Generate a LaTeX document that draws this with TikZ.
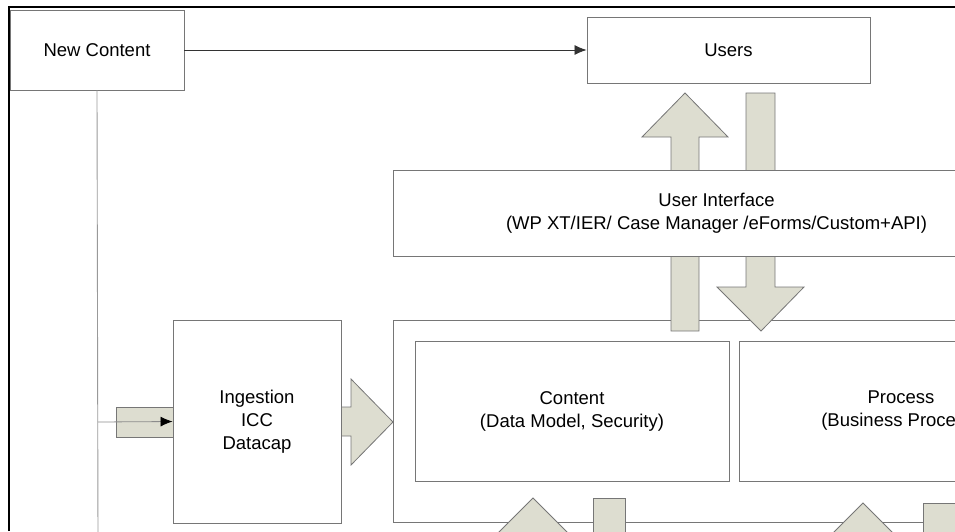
\documentclass[tikz,border=0pt]{standalone}
\usepackage{fontspec}
\setmainfont{Liberation Sans}
\usetikzlibrary{arrows.meta,positioning}
\definecolor{boxgray}{RGB}{118,118,118}
\definecolor{fatfill}{RGB}{221,221,208}

\begin{document}
\begin{tikzpicture}[x=1pt,y=-1pt,>=Latex,font=\fontsize{18.5}{23}\selectfont]
  \tikzset{block/.style={draw=boxgray,line width=0.9pt,fill=white,inner sep=0pt,align=center},
    fatarrow/.style={draw=boxgray,line width=0.8pt,fill=fatfill}}
  \useasboundingbox (0,0) rectangle (955,531);
  \clip (0,0) rectangle (955,531);

  % frame
  \draw[line width=1.4pt] (9,531) -- (9,7) -- (955,7);

  \node[draw=boxgray,line width=0.9pt,inner sep=0pt,minimum width=707pt,minimum height=202pt] (core) at (746.5,421) {};

  % block arrows
  \draw[fatarrow] (519,600) -- (519,541) -- (490,541) -- (533,498) -- (576,541) -- (547,541) -- (547,600) -- cycle;
  \draw[fatarrow] (593,498) rectangle (625,600);
  \draw[fatarrow] (849,600) -- (849,546) -- (820,546) -- (863,503) -- (906,546) -- (877,546) -- (877,600) -- cycle;
  \draw[fatarrow] (923,503) rectangle (956,600);
  \draw[fatarrow] (671,331) -- (671,137) -- (642,137) -- (685,93) -- (728,137) -- (699,137) -- (699,331) -- cycle;
  \draw[fatarrow] (746,93) -- (746,287) -- (717,287) -- (761,331) -- (804,287) -- (775,287) -- (775,93) -- cycle;
  \draw[fatarrow] (341,407) -- (351,407) -- (351,379) -- (393,422) -- (351,465) -- (351,436) -- (341,436) -- cycle;
  \draw[fatarrow] (116,407) rectangle (173,437);

  \node[block,minimum width=174pt,minimum height=80pt] (newc) at (97,50) {New Content};
  \node[block,minimum width=283pt,minimum height=66pt] (users) at (728.5,50) {Users};
  \node[block,minimum width=647pt,minimum height=86pt] (ui) at (716.5,213)
    {User Interface\\(WP XT/IER/ Case Manager /eForms/Custom+API)};
  \node[block,minimum width=168pt,minimum height=203pt] (ingest) at (257,421.5) {Ingestion\\ICC\\Datacap};
  \node[block,minimum width=314pt,minimum height=140pt] (content) at (572,411) {Content\\(Data Model, Security)};
  \node[block,minimum width=324pt,minimum height=140pt] (process) at (901,411) {Process\\(Business Process)};

  \coordinate (vbot) at (98,540);
  \coordinate (tap) at (98,422);

  \draw[black!80,line width=0.8pt,-{Latex[length=12pt,width=10pt]}] (newc) -- (users);
  \draw[black!40,line width=0.9pt] (newc.south) -- (vbot);
  \draw[black!45,line width=0.8pt,-{Latex[black,length=12pt,width=10pt]}] (tap) -- (ingest.west);
\end{tikzpicture}
\end{document}
